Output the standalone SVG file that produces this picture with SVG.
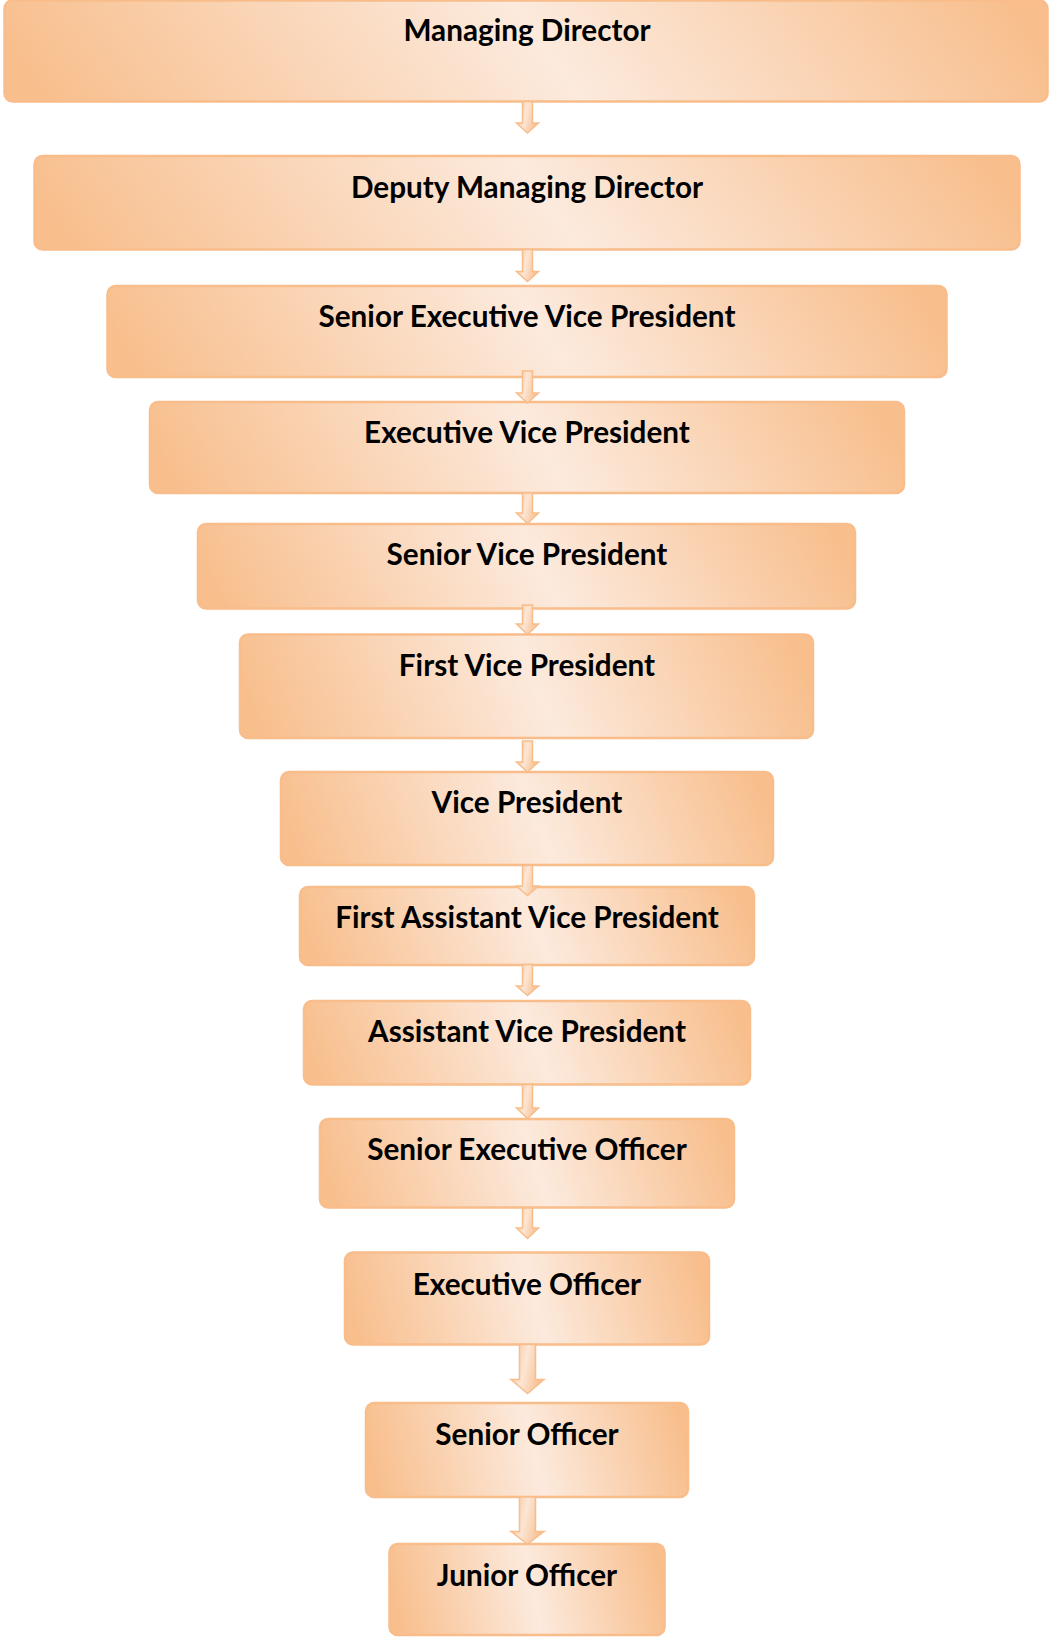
<svg xmlns="http://www.w3.org/2000/svg" width="1049" height="1637" viewBox="0 0 1049 1637">
  <defs>
    <!-- diagonal peach sheen used by every rank box -->
    <linearGradient id="boxFill" x1="0" y1="0.535" x2="1" y2="0.465">
      <stop offset="0" stop-color="#F8BE8C"/>
      <stop offset="0.52" stop-color="#FCEADD"/>
      <stop offset="1" stop-color="#F8BE8C"/>
    </linearGradient>
    <!-- sheen across the arrow body -->
    <linearGradient id="arrowFill" x1="0" y1="0" x2="1" y2="0.3">
      <stop offset="0" stop-color="#F8C193"/>
      <stop offset="0.5" stop-color="#FCE6D5"/>
      <stop offset="1" stop-color="#F8C193"/>
    </linearGradient>
  </defs>
  <style>
    .box { fill: url(#boxFill); stroke: #F8BD8B; stroke-width: 2.5; }
    .lbl { font-family: Lato, "Open Sans", "Liberation Sans", sans-serif; font-weight: 700; font-size: 29.7px; fill: #000; text-anchor: middle; }
    .arr { fill: url(#arrowFill); stroke: #F8BD8B; stroke-width: 1.5; stroke-linejoin: miter; }
  </style>

  <g id="nodes">
    <g id="managing-director">
      <rect class="box" x="4.5" y="0.5" width="1043" height="101" rx="8"/>
      <text class="lbl" x="527" y="41">Managing Director</text>
    </g>
    <g id="deputy-managing-director">
      <rect class="box" x="34.5" y="156" width="985" height="93.5" rx="8"/>
      <text class="lbl" x="527" y="198">Deputy Managing Director</text>
    </g>
    <g id="senior-executive-vice-president">
      <rect class="box" x="107.5" y="286" width="839" height="91" rx="8"/>
      <text class="lbl" x="527" y="327">Senior Executive Vice President</text>
    </g>
    <g id="executive-vice-president">
      <rect class="box" x="150" y="402" width="754" height="91" rx="8"/>
      <text class="lbl" x="527" y="443">Executive Vice President</text>
    </g>
    <g id="senior-vice-president">
      <rect class="box" x="198" y="524" width="657" height="84.5" rx="8"/>
      <text class="lbl" x="527" y="565">Senior Vice President</text>
    </g>
    <g id="first-vice-president">
      <rect class="box" x="240" y="634.5" width="573" height="103.5" rx="8"/>
      <text class="lbl" x="527" y="676">First Vice President</text>
    </g>
    <g id="vice-president">
      <rect class="box" x="281" y="772" width="492" height="93" rx="8"/>
      <text class="lbl" x="527" y="813">Vice President</text>
    </g>
    <g id="first-assistant-vice-president">
      <rect class="box" x="300" y="887" width="454" height="78" rx="8"/>
      <text class="lbl" x="527" y="928">First Assistant Vice President</text>
    </g>
    <g id="assistant-vice-president">
      <rect class="box" x="304" y="1001" width="446" height="83.5" rx="8"/>
      <text class="lbl" x="527" y="1042">Assistant Vice President</text>
    </g>
    <g id="senior-executive-officer">
      <rect class="box" x="320" y="1119" width="414" height="88.5" rx="8"/>
      <text class="lbl" x="527" y="1160">Senior Executive Officer</text>
    </g>
    <g id="executive-officer">
      <rect class="box" x="345" y="1252.5" width="364" height="92" rx="8"/>
      <text class="lbl" x="527" y="1295">Executive Officer</text>
    </g>
    <g id="senior-officer">
      <rect class="box" x="366" y="1403" width="322" height="94" rx="8"/>
      <text class="lbl" x="527" y="1445">Senior Officer</text>
    </g>
    <g id="junior-officer">
      <rect class="box" x="389.5" y="1544" width="275" height="91" rx="8"/>
      <text class="lbl" x="527" y="1586">Junior Officer</text>
    </g>
  </g>

  <g id="connectors">
    <polygon class="arr" points="522.5,101.5 532.5,101.5 532.5,123 538.5,123 527.5,133 516.5,123 522.5,123"/>
    <polygon class="arr" points="522.5,249.5 532.5,249.5 532.5,271.5 538.5,271.5 527.5,281.5 516.5,271.5 522.5,271.5"/>
    <polygon class="arr" points="522.5,371 532.5,371 532.5,393 538.5,393 527.5,403 516.5,393 522.5,393"/>
    <polygon class="arr" points="522.5,493 532.5,493 532.5,513 538.5,513 527.5,523.5 516.5,513 522.5,513"/>
    <polygon class="arr" points="522.5,605 532.5,605 532.5,624 538.5,624 527.5,634.5 516.5,624 522.5,624"/>
    <polygon class="arr" points="522.5,741 532.5,741 532.5,762 538.5,762 527.5,772 516.5,762 522.5,762"/>
    <polygon class="arr" points="522.5,865.5 532.5,865.5 532.5,886 538.5,886 527.5,895.5 516.5,886 522.5,886"/>
    <polygon class="arr" points="522.5,964.5 532.5,964.5 532.5,986 538.5,986 527.5,995.5 516.5,986 522.5,986"/>
    <polygon class="arr" points="522.5,1084.5 532.5,1084.5 532.5,1108 538.5,1108 527.5,1118.5 516.5,1108 522.5,1108"/>
    <polygon class="arr" points="522.5,1208 532.5,1208 532.5,1228 538.5,1228 527.5,1238.5 516.5,1228 522.5,1228"/>
    <polygon class="arr" points="519.5,1344.5 535.5,1344.5 535.5,1379.5 544,1379.5 527.5,1393.5 511,1379.5 519.5,1379.5"/>
    <polygon class="arr" points="519.5,1497 535.5,1497 535.5,1531.5 544,1531.5 527.5,1544 511,1531.5 519.5,1531.5"/>
  </g>
</svg>
